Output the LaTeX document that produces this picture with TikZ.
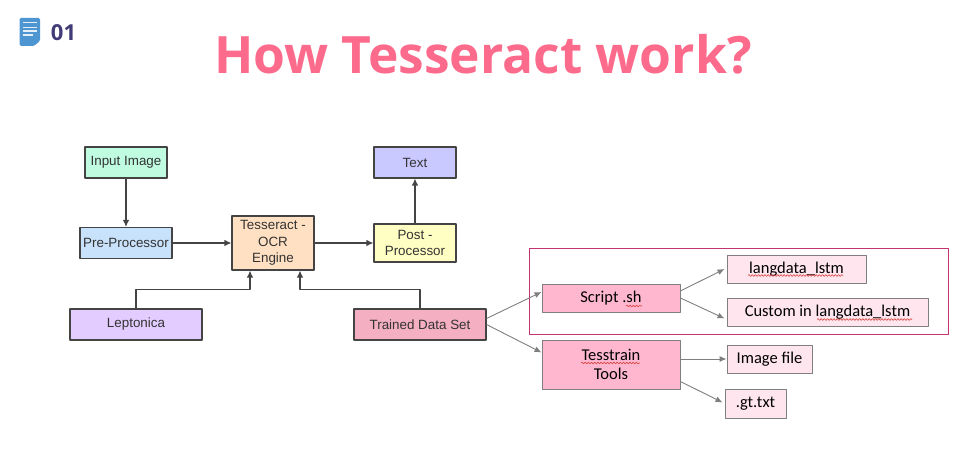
\documentclass[tikz,border=0pt]{standalone}
\usepackage{fontspec}
\usetikzlibrary{arrows.meta,decorations.pathmorphing}
\setmainfont{Liberation Sans}
\newfontfamily\calibrifont{Carlito}
\newfontfamily\titlefont{Open Sans}
\definecolor{spellred}{HTML}{D8433F}
\definecolor{titlepink}{HTML}{FC6B8B}
\definecolor{numberblue}{HTML}{413B78}
\definecolor{iconblue}{HTML}{4E96D2}
\definecolor{flowline}{HTML}{444444}
\definecolor{pinkline}{HTML}{7F7F7F}
\definecolor{framepink}{HTML}{C2336F}
\definecolor{inputfill}{HTML}{BFFCE0}
\definecolor{prefill}{HTML}{C9E2FB}
\definecolor{enginefill}{HTML}{FFE0C2}
\definecolor{postfill}{HTML}{FFFFC4}
\definecolor{textfill}{HTML}{C9C9FF}
\definecolor{leptfill}{HTML}{E3CCFF}
\definecolor{trainedfill}{HTML}{F4AFC3}
\definecolor{strongpink}{HTML}{FFB7D0}
\definecolor{lightpink}{HTML}{FFE6EE}
\tikzset{
  flowbox/.style={draw=flowline,line width=1.1bp,inner sep=0pt,align=center,text=black!80,font=\fontsize{13.4bp}{16.5bp}\selectfont},
  pinkbox/.style={draw=pinkline,line width=0.9bp,inner sep=0pt,align=center,font=\calibrifont\fontsize{16.5bp}{18.5bp}\selectfont},
  flowarrow/.style={draw=flowline,line width=1.1bp,-{Latex[length=7bp,width=6.5bp]}},
  pinkarrow/.style={draw=pinkline,line width=0.9bp,-{Latex[length=7bp,width=6bp]}},
  spellwave/.style={draw=spellred,line width=0.6bp,decorate,decoration={snake,amplitude=0.9bp,segment length=3.2bp}},
}
\begin{document}
\begin{tikzpicture}[line join=bevel]
\useasboundingbox (0bp,0bp) rectangle (955bp,450bp);
%%
\node (node_title) at (483bp,396bp) [text=titlepink,font=\titlefont\bfseries\fontsize{51.5bp}{60bp}\selectfont] {How Tesseract work?};
\node (node_number) at (63.5bp,417.5bp) [text=numberblue,font=\titlefont\bfseries\fontsize{22bp}{24bp}\selectfont] {01};
%% icon
\fill [iconblue,rounded corners=1.5bp] (19.5bp,432bp) -- (40bp,432bp) -- (40bp,409bp) -- (34bp,404bp) -- (19.5bp,404bp) -- cycle;
\foreach \y/\w in {427.3/14.5,422.7/14.5,419/14.5,415/10}
  \draw [white!85!iconblue,line width=1.1bp] (22.7bp,\y bp) -- ++(\w bp,0bp);
%%
\node (node_input) at (126bp,287.5bp) [flowbox,fill=inputfill,minimum width=82bp,minimum height=31bp] {Input Image};
\node (node_pre) at (126bp,207bp) [flowbox,fill=prefill,minimum width=92bp,minimum height=31bp] {Pre-Processor};
\node (node_engine) at (273bp,207bp) [flowbox,fill=enginefill,minimum width=82bp,minimum height=54bp] {Tesseract -\\OCR\\Engine};
\node (node_post) at (415bp,207bp) [flowbox,fill=postfill,minimum width=82bp,minimum height=38bp] {Post -\\Processor};
\node (node_text) at (415bp,287.5bp) [flowbox,fill=textfill,minimum width=82bp,minimum height=31bp] {Text};
\node (node_lept) at (136bp,125.5bp) [flowbox,fill=leptfill,minimum width=132bp,minimum height=31bp] {Leptonica};
\node (node_trained) at (420bp,125.5bp) [flowbox,fill=trainedfill,minimum width=132bp,minimum height=31bp] {Trained Data Set};
%%
\node (node_frame) at (738.5bp,159bp) [draw=framepink,line width=0.9bp,minimum width=419bp,minimum height=86bp] {};
\node (node_script) at (611bp,152bp) [pinkbox,fill=strongpink,minimum width=138bp,minimum height=28bp] {Script .sh};
\node (node_tess) at (611bp,85.5bp) [pinkbox,fill=strongpink,minimum width=138bp,minimum height=49bp] {Tesstrain\\Tools};
\node (node_lang) at (796.5bp,181bp) [pinkbox,fill=lightpink,minimum width=139bp,minimum height=28bp] {langdata\_lstm};
\node (node_custom) at (827.5bp,137.5bp) [pinkbox,fill=lightpink,minimum width=201bp,minimum height=28bp] {Custom in langdata\_lstm};
\node (node_image) at (769.5bp,91bp) [pinkbox,fill=lightpink,minimum width=85bp,minimum height=28bp] {Image file};
\node (node_gt) at (755.5bp,46.5bp) [pinkbox,fill=lightpink,minimum width=61bp,minimum height=29bp] {.gt.txt};
%% spelling marks
\draw [spellwave] ([shift={(-48.5bp,-6.5bp)}]node_lang.center) -- ++(95bp,0bp);
\draw [spellwave] ([shift={(-10.5bp,-7bp)}]node_custom.center) -- ++(95bp,0bp);
\draw [spellwave] ([shift={(15bp,-8bp)}]node_script.center) -- ++(16bp,0bp);
\draw [spellwave] ([shift={(-30bp,1.5bp)}]node_tess.center) -- ++(59bp,0bp);
%%
\draw [flowarrow] (node_input) -- (node_pre);
\draw [flowarrow] (node_pre) -- (node_engine);
\draw [flowarrow] (node_engine) -- (node_post);
\draw [flowarrow] (node_post) -- (node_text);
\draw [flowarrow] (node_lept.north) -- ++(0bp,19bp) -| ([xshift=-23bp]node_engine.south);
\draw [flowarrow] (node_trained.north) -- ++(0bp,19bp) -| ([xshift=27bp]node_engine.south);
%%
\draw [pinkarrow] ([yshift=6bp]node_trained.east) -- ([yshift=6bp]node_script.west);
\draw [pinkarrow] (node_trained.east) -- ([yshift=12bp]node_tess.west);
\draw [pinkarrow] ([yshift=7bp]node_script.east) -- ([xshift=-2bp]node_lang.west);
\draw [pinkarrow] (node_script.east) -- ([xshift=-2bp,yshift=-6bp]node_custom.west);
\draw [pinkarrow] (node_tess.east |- node_image.west) -- (node_image.west);
\draw [pinkarrow] ([yshift=-17bp]node_tess.east) -- ([xshift=-2bp,yshift=1bp]node_gt.west);
%
\end{tikzpicture}
\end{document}
